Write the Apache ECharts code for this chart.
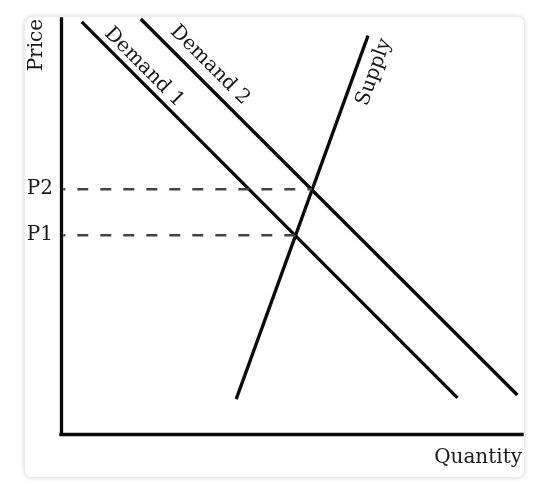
<!DOCTYPE html>
<html>
<head>
<meta charset="utf-8">
<script src="https://cdn.jsdelivr.net/npm/echarts@6/dist/echarts.min.js"></script>
<style>
  html, body { margin: 0; padding: 0; background: #ffffff; }
  #card { position: absolute; left: 24px; top: 16px; width: 499px; height: 460px;
          border-radius: 8px; background: #fff; box-shadow: 0 0 4px rgba(0,0,0,0.16); border: 1px solid #ececec; }
  #chart { position: absolute; left: 0; top: 0; width: 536px; height: 492px; }
</style>
</head>
<body>
<div id="card"></div>
<div id="chart"></div>
<script>
// Curves (arbitrary units: quantity 0-100, price 0-100)
const demand1 = [[4.5, 99.3], [86.0, 8.7]];
const demand2 = [[17.3, 100.0], [99.0, 9.4]];
const supply  = [[38.0, 8.4], [66.6, 96.0]];
// Equilibrium prices and quantities
const priceTickValues = [47.9, 59.0];
const priceTickLabels = ['P1', 'P2'];
const eqQuantities = [50.85, 54.46];
// Curve labels: [text, x, y, rotation in degrees]
const curveLabels = [
  ['Demand 1', 18.0, 88.4, -45],
  ['Demand 2', 32.3, 88.9, -45],
  ['Supply', 67.9, 87.2, 70]
];
const axisTitles = [
  ['Price', -5.2, 93.7, 90, 'center'],
  ['Quantity', 100, -5.8, 0, 'right']
];

const FONT = 'DejaVu Serif';
const INK = '#0a0a0a';
const TEXT = '#1a1a1a';

const chart = echarts.init(document.getElementById('chart'), null, { renderer: 'canvas' });

const series = [];
[demand1, demand2, supply].forEach(function (d) {
  series.push({
    type: 'line', data: d, symbol: 'none', silent: true,
    lineStyle: { color: INK, width: 3.3 }
  });
});
priceTickValues.forEach(function (p, i) {
  series.push({
    type: 'line', data: [[0.5, p], [eqQuantities[i], p]], symbol: 'none', silent: true,
    lineStyle: { color: '#444444', width: 2.5, type: [11, 12], dashOffset: 9 }
  });
});
function mkLabel(c, align) {
  return {
    value: [c[1], c[2]],
    label: {
      show: true, position: 'inside', formatter: c[0], rotate: c[3],
      fontFamily: FONT, fontSize: 20, color: TEXT, textBorderWidth: 0, opacity: 1,
      align: align, verticalAlign: 'middle'
    }
  };
}
series.push({
  type: 'scatter', silent: true, clip: false, symbolSize: 1,
  itemStyle: { color: 'rgba(255,255,255,0)', opacity: 1 },
  data: curveLabels.map(function (c) { return mkLabel(c, 'center'); })
    .concat(axisTitles.map(function (c) { return mkLabel(c, c[4]); }))
});

chart.setOption({
  animation: false,
  backgroundColor: 'transparent',
  grid: { left: 61, right: 14, top: 19, bottom: 58, containLabel: false },
  xAxis: {
    type: 'value', min: 0, max: 100,
    axisLine: { show: true, lineStyle: { color: INK, width: 3.3, cap: 'square' } },
    axisTick: { show: false }, axisLabel: { show: false }, splitLine: { show: false }
  },
  yAxis: {
    type: 'value', min: 0, max: 100,
    axisLine: { show: true, lineStyle: { color: INK, width: 3.3, cap: 'square' } },
    axisTick: { show: false }, splitLine: { show: false },
    axisLabel: {
      show: true, customValues: priceTickValues, margin: 8,
      fontFamily: FONT, fontSize: 20, color: TEXT,
      formatter: function (v) {
        for (let i = 0; i < priceTickValues.length; i++) {
          if (Math.abs(v - priceTickValues[i]) < 0.01) return priceTickLabels[i];
        }
        return '';
      }
    }
  },
  series: series
});
</script>
</body>
</html>
